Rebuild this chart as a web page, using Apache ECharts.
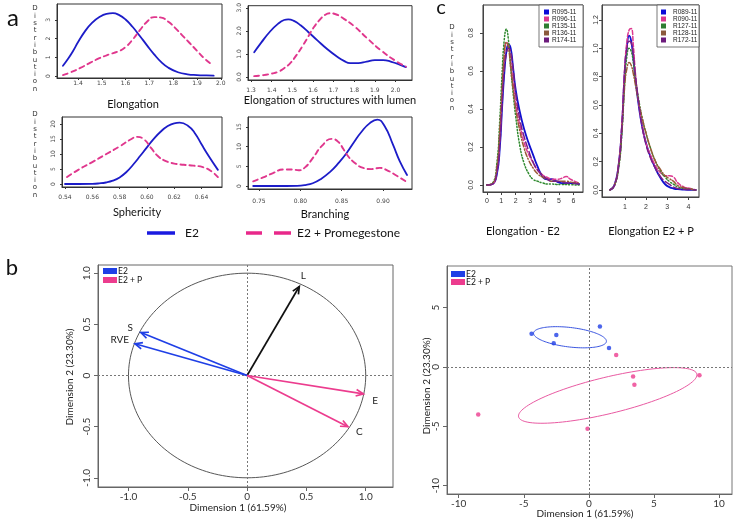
<!DOCTYPE html>
<html><head><meta charset="utf-8">
<script src="https://cdn.jsdelivr.net/npm/echarts@6/dist/echarts.min.js"></script>
<style>html,body{margin:0;padding:0;background:#fff}#c{width:734px;height:522px}</style>
</head><body><div id="c"></div>
<script>
// ---------------- Panel a data ----------------
var elongE2X = [1.337,1.36,1.38,1.40,1.43,1.46,1.49,1.52,1.547,1.57,1.60,1.63,1.66,1.69,1.72,1.75,1.78,1.82,1.86,1.90,1.94,1.97];
var elongE2Y = [0.55,0.95,1.35,1.8,2.4,2.85,3.15,3.32,3.36,3.28,3.02,2.62,2.14,1.64,1.16,0.74,0.44,0.2,0.09,0.05,0.03,0.02];
var elongPX  = [1.337,1.37,1.41,1.45,1.49,1.53,1.57,1.60,1.63,1.66,1.69,1.72,1.75,1.78,1.81,1.84,1.87,1.90,1.93,1.963];
var elongPY  = [0.05,0.2,0.43,0.7,0.95,1.15,1.32,1.55,1.95,2.45,2.9,3.15,3.12,2.9,2.55,2.15,1.75,1.35,0.95,0.6];

var lumenE2X = [1.315,1.35,1.39,1.43,1.46,1.48,1.51,1.54,1.577,1.62,1.67,1.717,1.75,1.78,1.82,1.86,1.90,1.94,1.98,2.02,2.05];
var lumenE2Y = [1.07,1.5,1.95,2.3,2.47,2.5,2.42,2.24,1.95,1.6,1.2,0.88,0.7,0.6,0.6,0.67,0.73,0.73,0.66,0.54,0.43];
var lumenPX  = [1.315,1.36,1.40,1.43,1.46,1.49,1.52,1.55,1.577,1.60,1.63,1.66,1.68,1.71,1.75,1.80,1.86,1.93,2.0,2.05];
var lumenPY  = [0.04,0.08,0.15,0.22,0.38,0.6,0.95,1.35,1.75,2.1,2.45,2.7,2.76,2.72,2.52,2.2,1.7,1.15,0.7,0.45];

var spherE2X = [0.54,0.55,0.56,0.565,0.57,0.575,0.58,0.585,0.59,0.595,0.60,0.605,0.61,0.615,0.62,0.624,0.63,0.635,0.64,0.645,0.652];
var spherE2Y = [0,0,0.05,0.2,0.5,1.1,2.2,4,6.5,9.3,12.2,15,17.4,19.2,20.2,20.4,19.4,17,13.2,9.5,4.7];
var spherPX  = [0.5415,0.55,0.56,0.57,0.58,0.588,0.593,0.598,0.603,0.608,0.613,0.62,0.627,0.634,0.641,0.647,0.652];
var spherPY  = [2.3,4.8,7.3,9.9,12.5,14.8,15.7,14.8,12,9.3,7.8,6.8,6.4,6.1,5.6,4.3,2.3];

var branE2X = [0.743,0.77,0.796,0.806,0.815,0.825,0.836,0.846,0.856,0.865,0.874,0.884,0.893,0.902,0.912,0.92,0.929];
var branE2Y = [0,0,0.05,0.25,0.7,1.8,3.6,5.8,8.4,11.2,13.8,16,16.9,15.2,10.5,6.4,2.8];
var branPX  = [0.743,0.755,0.767,0.779,0.79,0.798,0.806,0.815,0.826,0.838,0.846,0.852,0.858,0.864,0.876,0.886,0.896,0.905,0.915,0.929];
var branPY  = [1.2,2.2,3.3,4.2,4.2,4.0,4.8,7.1,10.2,12,11.2,9.4,7.5,6.2,4.6,4.3,4.6,4,2.8,1.0];

var aTitles = ['Elongation','Elongation of structures with lumen','Sphericity','Branching'];
var aLegend = ['E2','E2 + Promegestone'];

// ---------------- Panel c data ----------------
var cLeftX = [0,0.4,0.7,0.9,1.05,1.2,1.35,1.5,1.65,1.8,2.0,2.3,2.6,2.9,3.2,3.5,3.9,4.2,4.5,4.8,5.2,5.5,5.8,6.4];
var cLeftNames = ['R095-11','R096-11','R135-11','R136-11','R174-11'];
var cL_R095 = [0,0.005,0.06,0.2,0.4,0.58,0.7,0.74,0.72,0.63,0.5,0.38,0.29,0.22,0.16,0.1,0.04,0.03,0.03,0.02,0.01,0.01,0.01,0.005];
var cL_R096 = [0,0.005,0.08,0.25,0.48,0.66,0.75,0.74,0.65,0.55,0.43,0.31,0.22,0.16,0.12,0.08,0.05,0.04,0.03,0.03,0.035,0.045,0.03,0.01];
var cL_R135 = [0,0.01,0.12,0.35,0.58,0.76,0.82,0.76,0.62,0.5,0.36,0.2,0.11,0.06,0.03,0.02,0.01,0.005,0.005,0.003,0.002,0.002,0.001,0];
var cL_R136 = [0,0.008,0.1,0.3,0.5,0.68,0.75,0.72,0.62,0.52,0.4,0.28,0.19,0.13,0.09,0.06,0.04,0.03,0.02,0.02,0.02,0.02,0.015,0.01];
var cL_R174 = [0,0.005,0.07,0.22,0.42,0.6,0.69,0.72,0.7,0.62,0.48,0.34,0.25,0.18,0.12,0.08,0.05,0.03,0.02,0.02,0.015,0.01,0.01,0.005];

var cRightX = [0.3,0.5,0.7,0.85,1.0,1.1,1.2,1.3,1.4,1.5,1.65,1.8,2.0,2.2,2.45,2.7,2.9,3.1,3.3,3.5,3.8,4.1,4.35];
var cRightNames = ['R089-11','R090-11','R127-11','R128-11','R172-11'];
var cR_R089 = [0,0.03,0.17,0.42,0.85,1.02,1.09,1.05,0.93,0.78,0.6,0.46,0.33,0.24,0.15,0.08,0.04,0.02,0.01,0.005,0.002,0.001,0];
var cR_R090 = [0,0.03,0.18,0.45,0.88,1.05,1.13,1.14,1.02,0.82,0.62,0.47,0.33,0.25,0.17,0.12,0.1,0.1,0.09,0.05,0.02,0.01,0];
var cR_R127 = [0,0.03,0.15,0.38,0.78,0.95,1.0,0.98,0.9,0.78,0.64,0.52,0.4,0.3,0.2,0.13,0.09,0.06,0.04,0.02,0.01,0.005,0];
var cR_R128 = [0,0.03,0.16,0.4,0.75,0.86,0.9,0.88,0.82,0.74,0.62,0.52,0.4,0.3,0.2,0.14,0.1,0.08,0.06,0.03,0.015,0.005,0];
var cR_R172 = [0,0.03,0.17,0.43,0.86,1.0,1.05,1.04,0.95,0.8,0.62,0.46,0.32,0.23,0.15,0.09,0.06,0.04,0.02,0.01,0.005,0.002,0];
var cTitles = ['Elongation - E2','Elongation E2 + P'];

// ---------------- Panel b data ----------------
var varNames = ['L','S','RVE','E','C'];
var varDim1  = [0.44,-0.895,-0.945,0.98,0.85];
var varDim2  = [0.87,0.42,0.31,-0.18,-0.5];
var varGroup = [0,1,1,2,2];           // 0 black, 1 E2, 2 E2+P
var circleRadius = [1];

var indE2Dim1 = [-4.4,-2.5,-2.7,0.85,1.55];
var indE2Dim2 = [2.8,2.7,2.0,3.4,1.6];
var indPDim1  = [2.1,3.4,3.5,8.5,-8.5,-0.1];
var indPDim2  = [1.0,-0.8,-1.5,-0.7,-4.0,-5.2];
// ellipse: center x, center y, semi-axis vector a (x,y), semi-axis vector b (x,y)
var ellE2 = [-1.45,2.5,2.8,-0.35,0.05,0.82];
var ellP  = [1.45,-2.4,6.85,1.8,-0.3,1.5];
var bLegend = ['E2','E2 + P'];
var dim1Title = 'Dimension 1 (61.59%)', dim2Title = 'Dimension 2 (23.30%)';

// ---------------- styles ----------------
var BLUE_A = '#1c1cc8', PINK_A = '#e0378d';
var C_COLORS = ['#1010d0','#dd3a90','#2f8a2f','#9a5a36','#7a1f86'];
var C_LEGCOL = ['#0a0ad8','#d8388e','#2e7d32','#8b5a3c','#6c1b7c'];
var C_DASH = ['solid',[4,2],[1.2,2],[5,2,1,2],[7,3]];
var B_BLUE = '#1f3fe6', B_PINK = '#ec3c8e';

function pairs(xs, ys){ return xs.map(function(x,i){ return [x, ys[i]]; }); }
function fmtFrom(vals, labs){ return function(v){ for (var i=0;i<vals.length;i++){ if (Math.abs(vals[i]-v)<1e-9) return labs[i]; } return ''; }; }
function axis(kind, gi, min, max, ticks, labs, o){
  return { type:'value', gridIndex:gi, min:min, max:max, scale:true,
    splitLine:{show:false},
    axisLine:{show:true, onZero:false, lineStyle:{color:o.color||'#222', width:1}},
    axisTick:{show:true, inside:false, length:o.tick||3, customValues:ticks, lineStyle:{color:o.color||'#222'}},
    axisLabel:{show:true, customValues:ticks, formatter:fmtFrom(ticks,labs), margin:o.margin, rotate:(kind==='y'?90:0),
      fontSize:o.fs, fontFamily:o.ff, color:o.lc||'#333', hideOverlap:false}
  };
}
var aAx = {fs:6, ff:'DejaVu Sans', lc:'#444', tick:2, color:'#333'};
function ext(o, m){ var r={}; for (var k in o) r[k]=o[k]; r.margin=m; return r; }

var grids = [
  {left:57, top:4, width:165, height:74},
  {left:248, top:5, width:164, height:75},
  {left:62, top:117, width:160, height:70},
  {left:248, top:117, width:164, height:72},
  {left:483, top:5, width:100, height:187},
  {left:602, top:5, width:97, height:192},
  {left:98, top:265, width:295, height:222},
  {left:447, top:266, width:285, height:228}
].map(function(g){ g.show=true; g.borderColor='#333'; g.borderWidth=1; g.backgroundColor='transparent'; return g; });
grids[6].borderColor='#666'; grids[7].borderColor='#777';

var cAx = {fs:7, ff:'Liberation Sans', lc:'#333', tick:3, color:'#444'};
var bAx = {fs:10, ff:'Lato', lc:'#333', tick:4, color:'#666'};

var xAxes = [
  axis('x',0,1.312,2.005,[1.4,1.5,1.6,1.7,1.8,1.9,2.0],['1.4','1.5','1.6','1.7','1.8','1.9','2.0'],ext(aAx,2)),
  axis('x',1,1.285,2.08,[1.3,1.4,1.5,1.6,1.7,1.8,1.9,2.0],['1.3','1.4','1.5','1.6','1.7','1.8','1.9','2.0'],ext(aAx,7)),
  axis('x',2,0.5378,0.655,[0.54,0.56,0.58,0.60,0.62,0.64],['0.54','0.56','0.58','0.60','0.62','0.64'],ext(aAx,7)),
  axis('x',3,0.7367,0.935,[0.75,0.80,0.85,0.90],['0.75','0.80','0.85','0.90'],ext(aAx,9)),
  axis('x',4,-0.27,6.67,[0,1,2,3,4,5,6],['0','1','2','3','4','5','6'],ext(cAx,6)),
  axis('x',5,-0.08,4.5,[1,2,3,4],['1','2','3','4'],ext(cAx,7)),
  axis('x',6,-1.257,1.23,[-1,-0.5,0,0.5,1],['-1.0','-0.5','0','0.5','1.0'],ext(bAx,5)),
  axis('x',7,-10.9,11.0,[-10,-5,0,5,10],['-10','-5','0','5','10'],ext(bAx,5))
];
var yAxes = [
  axis('y',0,-0.107,3.85,[0,1,2,3],['0','1','2','3'],ext(aAx,6)),
  axis('y',1,-0.13,3.09,[0,1,2,3],['0.0','1.0','2.0','3.0'],ext(aAx,6)),
  axis('y',2,-1,22.3,[0,5,10,15,20],['0','5','10','15','20'],ext(aAx,6)),
  axis('y',3,-0.76,17.55,[0,5,10,15],['0','5','10','15'],ext(aAx,6)),
  axis('y',4,-0.037,0.947,[0,0.2,0.4,0.6,0.8],['0.0','0.2','0.4','0.6','0.8'],ext(cAx,8)),
  axis('y',5,-0.05,1.306,[0,0.2,0.4,0.6,0.8,1.0,1.2],['0.0','0.2','0.4','0.6','0.8','1.0','1.2'],ext(cAx,2)),
  axis('y',6,-1.09,1.08,[-1,-0.5,0,0.5,1],['-1.0','-0.5','0','0.5','1.0'],ext(bAx,6)),
  axis('y',7,-10.7,8.5,[-10,-5,0,5],['-10','-5','0','5'],ext(bAx,6))
];

function curve(gi, xs, ys, color, width, type, z){
  return {type:'line', xAxisIndex:gi, yAxisIndex:gi, data:pairs(xs,ys), smooth:0.5,
    symbol:'none', showSymbol:false, silent:true, z:z||3,
    lineStyle:{color:color, width:width, type:type||'solid', cap:'round', join:'round'}};
}
var series = [];
var PDASH = [5,4];
series.push(curve(0, elongE2X, elongE2Y, BLUE_A, 1.8));
series.push(curve(0, elongPX, elongPY, PINK_A, 1.9, PDASH));
series.push(curve(1, lumenE2X, lumenE2Y, BLUE_A, 1.8));
series.push(curve(1, lumenPX, lumenPY, PINK_A, 1.9, PDASH));
series.push(curve(2, spherE2X, spherE2Y, BLUE_A, 1.8));
series.push(curve(2, spherPX, spherPY, PINK_A, 1.9, PDASH));
series.push(curve(3, branE2X, branE2Y, BLUE_A, 1.8));
series.push(curve(3, branPX, branPY, PINK_A, 1.9, PDASH));

var cLeftSets = [cL_R095,cL_R096,cL_R135,cL_R136,cL_R174];
var cRightSets = [cR_R089,cR_R090,cR_R127,cR_R128,cR_R172];
var cOrder = [2,3,4,1,0];
cOrder.forEach(function(i){
  series.push(curve(4, cLeftX, cLeftSets[i], C_COLORS[i], i===0?1.8:1.5, C_DASH[i], 3+i));
  series.push(curve(5, cRightX, cRightSets[i], C_COLORS[i], i===0?1.8:1.5, C_DASH[i], 3+i));
});

// b-left: correlation circle
series.push({type:'custom', xAxisIndex:6, yAxisIndex:6, silent:true, z:2,
  data: circleRadius.map(function(r){ return [0,0,r]; }),
  renderItem:function(params, api){
    var r = api.value(2), pts=[];
    for (var k=0;k<=180;k++){ var t=k/180*2*Math.PI; pts.push(api.coord([r*Math.cos(t), r*Math.sin(t)])); }
    return {type:'polyline', shape:{points:pts}, style:{stroke:'#444', lineWidth:0.9, fill:null}};
  }});
// zero lines
series.push({type:'scatter', xAxisIndex:6, yAxisIndex:6, data:[], silent:true,
  markLine:{silent:true, symbol:'none', label:{show:false}, animation:false,
    lineStyle:{color:'#777', type:[2,2], width:1},
    data:[{xAxis:0},{yAxis:0}]}});
var ARROW_COL = ['#111', B_BLUE, B_PINK];
var LABEL_OFF = [[4,-11,'center'],[-8,-5,'right'],[-6,-4,'right'],[9,7,'left'],[8,5,'left']];
series.push({type:'custom', xAxisIndex:6, yAxisIndex:6, silent:true, z:5,
  data: varDim1.map(function(x,i){ return [x, varDim2[i], i]; }),
  renderItem:function(params, api){
    var i = api.value(2);
    var tip = api.coord([api.value(0), api.value(1)]), o = api.coord([0,0]);
    var ang = Math.atan2(tip[1]-o[1], tip[0]-o[0]), L=8, a=0.42;
    var p1=[tip[0]-L*Math.cos(ang-a), tip[1]-L*Math.sin(ang-a)], p2=[tip[0]-L*Math.cos(ang+a), tip[1]-L*Math.sin(ang+a)];
    var col = ARROW_COL[varGroup[i]], off = LABEL_OFF[i];
    return {type:'group', children:[
      {type:'line', shape:{x1:o[0],y1:o[1],x2:tip[0],y2:tip[1]}, style:{stroke:col, lineWidth:1.7}},
      {type:'polyline', shape:{points:[p1,tip,p2]}, style:{stroke:col, lineWidth:1.7, fill:null}},
      {type:'text', x:tip[0]+off[0], y:tip[1]+off[1], style:{text:varNames[i], fill:'#222', font:'10px Lato', align:off[2], verticalAlign:'middle'}}
    ]};
  }});

// b-right
series.push({type:'scatter', xAxisIndex:7, yAxisIndex:7, silent:true,
  markLine:{silent:true, symbol:'none', label:{show:false}, animation:false,
    lineStyle:{color:'#777', type:[2,2], width:1},
    data:[{xAxis:0},{yAxis:0}]},
  data: pairs(indE2Dim1, indE2Dim2), symbolSize:4.5, itemStyle:{color:B_BLUE}, z:4});
series.push({type:'scatter', xAxisIndex:7, yAxisIndex:7, silent:true,
  data: pairs(indPDim1, indPDim2), symbolSize:4.5, itemStyle:{color:B_PINK}, z:4});
var ELL_COL = ['#3a55e0','#e95aa2'];
series.push({type:'custom', xAxisIndex:7, yAxisIndex:7, silent:true, z:3,
  data: [ellE2.concat([0]), ellP.concat([1])],
  renderItem:function(params, api){
    var cx=api.value(0), cy=api.value(1), ax=api.value(2), ay=api.value(3), bx=api.value(4), by=api.value(5), g=api.value(6);
    var pts=[];
    for (var k=0;k<=120;k++){ var t=k/120*2*Math.PI; pts.push(api.coord([cx+ax*Math.cos(t)+bx*Math.sin(t), cy+ay*Math.cos(t)+by*Math.sin(t)])); }
    return {type:'polyline', shape:{points:pts}, style:{stroke:ELL_COL[g], lineWidth:1, fill:null}};
  }});

// ---------------- graphic texts ----------------
function txt(x,y,t,font,align,va,fill,rot){
  return {type:'text', x:x, y:y, rotation:rot||0, silent:true,
    style:{text:t, font:font, fill:fill||'#111', align:align||'center', verticalAlign:va||'middle', textAlign:align||'center', textVerticalAlign:va||'middle'}};
}
var distLetters = 'Distribution'.split('').join('\n');
function distText(x,y){ return {type:'text', x:x, y:y, silent:true,
  style:{text:distLetters, font:'7px DejaVu Sans', lineHeight:7.3, fill:'#333', align:'center', verticalAlign:'top', textAlign:'center', textVerticalAlign:'top'}}; }

var graphics = [
  txt(13,18,'a','24px Lato'),
  txt(441,8,'c','20px Lato'),
  txt(12,268,'b','22px Lato'),
  distText(35,5), distText(35,111), distText(452,24),
  txt(133,104,aTitles[0],'11px Lato'),
  txt(330,100,aTitles[1],'11px Lato'),
  txt(137,212,aTitles[2],'11px Lato'),
  txt(325,214,aTitles[3],'11px Lato'),
  // a legend
  {type:'line', silent:true, shape:{x1:147,y1:233,x2:175,y2:233}, style:{stroke:'#1a1ae0', lineWidth:3.5}},
  txt(185,233,aLegend[0],'12px Lato','left'),
  {type:'line', silent:true, shape:{x1:246,y1:233,x2:262,y2:233}, style:{stroke:'#e8288a', lineWidth:3.5}},
  {type:'line', silent:true, shape:{x1:274,y1:233,x2:291,y2:233}, style:{stroke:'#e8288a', lineWidth:3.5}},
  txt(297,233,aLegend[1],'12px Lato','left'),
  // c titles
  txt(523,231,cTitles[0],'11px Lato'),
  txt(651,231,cTitles[1],'11px Lato'),
  // c legends
  {type:'rect', silent:true, shape:{x:539,y:5,width:44,height:42}, style:{fill:'#fff', stroke:'#555', lineWidth:0.8}, z:10},
  {type:'rect', silent:true, shape:{x:657,y:5,width:42,height:42}, style:{fill:'#fff', stroke:'#555', lineWidth:0.8}, z:10},
  // b legends
  {type:'rect', silent:true, shape:{x:103,y:268,width:14,height:6}, style:{fill:B_BLUE}},
  {type:'rect', silent:true, shape:{x:103,y:277,width:14,height:6}, style:{fill:B_PINK}},
  txt(118,271,bLegend[0],'8.5px Lato','left'),
  txt(118,280,bLegend[1],'8.5px Lato','left'),
  {type:'rect', silent:true, shape:{x:451,y:271,width:14,height:6}, style:{fill:B_BLUE}},
  {type:'rect', silent:true, shape:{x:451,y:279,width:14,height:6}, style:{fill:B_PINK}},
  txt(466,274,bLegend[0],'8.5px Lato','left'),
  txt(466,282,bLegend[1],'8.5px Lato','left'),
  // b axis titles
  txt(238,508,dim1Title,'10px Lato','center','middle','#222'),
  txt(585,514,dim1Title,'10px Lato','center','middle','#222'),
  txt(70,377,dim2Title,'10px Lato','center','middle','#222',Math.PI/2),
  txt(427,386,dim2Title,'10px Lato','center','middle','#222',Math.PI/2)
];
cLeftNames.forEach(function(n,i){
  var y = 12 + i*7;
  graphics.push({type:'rect', silent:true, z:11, shape:{x:544,y:y-2.5,width:5,height:5}, style:{fill:C_LEGCOL[i]}});
  graphics.push(Object.assign(txt(552,y,n,'6.5px Liberation Sans','left','middle','#222'),{z:11}));
});
cRightNames.forEach(function(n,i){
  var y = 12 + i*7;
  graphics.push({type:'rect', silent:true, z:11, shape:{x:661,y:y-2.5,width:5,height:5}, style:{fill:C_LEGCOL[i]}});
  graphics.push(Object.assign(txt(673,y,n,'6.5px Liberation Sans','left','middle','#222'),{z:11}));
});

var chart = echarts.init(document.getElementById('c'), null, {renderer:'canvas'});
chart.setOption({
  animation:false,
  backgroundColor:'#fff',
  grid:grids, xAxis:xAxes, yAxis:yAxes, series:series,
  graphic:{elements:graphics}
});
</script></body></html>
